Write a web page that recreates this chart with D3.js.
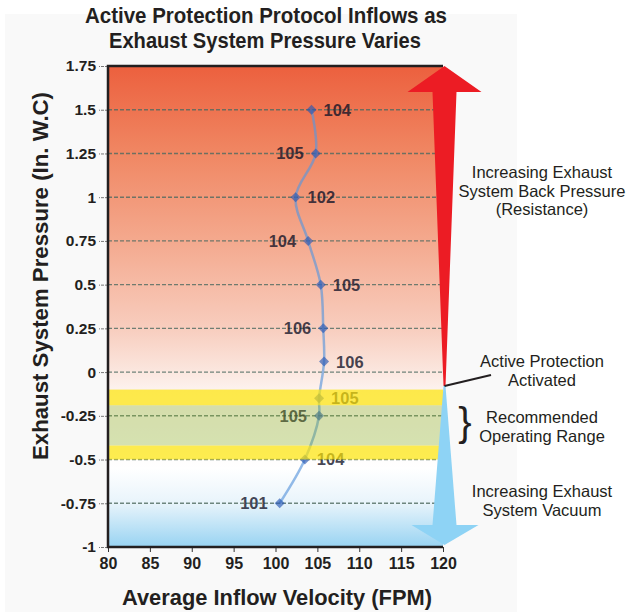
<!DOCTYPE html>
<html>
<head>
<meta charset="utf-8">
<script src="https://cdn.jsdelivr.net/npm/d3@7"></script>
<style>
  body { margin: 0; background: #fff; }
  text { font-family: "Liberation Sans", Arial, sans-serif; }
</style>
</head>
<body>
<div id="chart"></div>
<script>
var svgWidth = 644;
var svgHeight = 615;

// data
var pressure = [1.5, 1.25, 1, 0.75, 0.5, 0.25, 0.06, -0.15, -0.25, -0.5, -0.75];
var velocity = [104.3, 104.8, 102.4, 103.9, 105.4, 105.7, 105.8, 105.2, 105.2, 103.5, 100.5];
var pointLabels = ["104", "105", "102", "104", "105", "106", "106", "105", "105", "104", "101"];
var labelSide = ["right", "left", "right", "left", "right", "left", "right", "right", "left", "right", "left"];

var yTicks = [1.75, 1.5, 1.25, 1, 0.75, 0.5, 0.25, 0, -0.25, -0.5, -0.75, -1];
var yTickLabels = ["1.75", "1.5", "1.25", "1", "0.75", "0.5", "0.25", "0", "-0.25", "-0.5", "-0.75", "-1"];
var xTicks = [80, 85, 90, 95, 100, 105, 110, 115, 120];

var bandFrom = [-0.1, -0.19, -0.42];
var bandTo = [-0.19, -0.42, -0.5];
var bandKind = ["yellow", "green", "yellow"];

var x = d3.scaleLinear().domain([80, 120]).range([108, 443]);
var y = d3.scaleLinear().domain([-1, 1.75]).range([547, 66]);

var svg = d3.select("#chart")
  .append("svg")
  .attr("width", svgWidth)
  .attr("height", svgHeight);

var defs = svg.append("defs");

// background fill of plot: red at top, white around -0.5, blue at bottom
var bgStops = [
  [1.75, "#ec603e"], [1.25, "#f08763"], [0.75, "#f4a98e"], [0.25, "#f8cdbe"],
  [0, "#fbe7df"], [-0.1, "#fdf2ee"], [-0.55, "#ffffff"], [-0.75, "#e8f4fb"], [-1, "#98d3f2"]
];
var bg = defs.append("linearGradient")
  .attr("id", "bgGrad")
  .attr("gradientUnits", "userSpaceOnUse")
  .attr("x1", 0).attr("x2", 0)
  .attr("y1", y(1.75)).attr("y2", y(-1));
bg.selectAll("stop").data(bgStops).enter().append("stop")
  .attr("offset", d => (y(d[0]) - y(1.75)) / (y(-1) - y(1.75)))
  .attr("stop-color", d => d[1]);

// faint page panel
svg.append("rect")
  .attr("x", 5).attr("y", 14).attr("width", 512).attr("height", 598)
  .attr("fill", "#f9f9f9");

svg.append("rect")
  .attr("x", x(80)).attr("y", y(1.75))
  .attr("width", x(120) - x(80)).attr("height", y(-1) - y(1.75))
  .attr("fill", "url(#bgGrad)");

// dashed grid
svg.append("g").selectAll("line")
  .data(yTicks.filter(d => d > -1 && d < 1.75))
  .enter().append("line")
  .attr("x1", x(80)).attr("x2", x(120))
  .attr("y1", d => y(d)).attr("y2", d => y(d))
  .attr("stroke", "#4e6a60")
  .attr("stroke-opacity", 0.8)
  .attr("stroke-width", 1.4)
  .attr("stroke-dasharray", "4,2");

var points = pressure.map((p, i) => ({ p: p, v: velocity[i], label: pointLabels[i], side: labelSide[i] }));

var line = d3.line()
  .x(d => x(d.v))
  .y(d => y(d.p))
  .curve(d3.curveCatmullRom.alpha(0.5));

svg.append("path")
  .datum(points)
  .attr("d", line)
  .attr("fill", "none")
  .attr("stroke", "#5a96dc")
  .attr("stroke-opacity", 0.65)
  .attr("stroke-width", 2.5);

svg.append("g").selectAll("path")
  .data(points)
  .enter().append("path")
  .attr("d", d3.symbol().type(d3.symbolSquare).size(50))
  .attr("transform", d => `translate(${x(d.v)},${y(d.p)}) rotate(45)`)
  .attr("fill", "#2858b4")
  .attr("fill-opacity", 0.65);

svg.append("g").selectAll("text")
  .data(points)
  .enter().append("text")
  .attr("x", d => x(d.v) + (d.side === "right" ? 12 : -12))
  .attr("y", d => y(d.p))
  .attr("dy", "0.36em")
  .attr("text-anchor", d => d.side === "right" ? "start" : "end")
  .attr("font-size", 16.5)
  .attr("font-weight", "bold")
  .attr("fill", "#141428")
  .attr("fill-opacity", 0.8)
  .text(d => d.label);

// recommended range bands laid over the marks
var bandColor = { yellow: "#fce405", green: "#8ab229" };
var bandAlpha = { yellow: 0.7, green: 0.35 };
svg.append("g").selectAll("rect")
  .data(bandFrom.map((f, i) => ({ from: f, to: bandTo[i], kind: bandKind[i] })))
  .enter().append("rect")
  .attr("x", x(80)).attr("width", x(120) - x(80))
  .attr("y", d => y(d.from)).attr("height", d => y(d.to) - y(d.from))
  .attr("fill", d => bandColor[d.kind])
  .attr("fill-opacity", d => bandAlpha[d.kind]);

// axes
var leftAxis = d3.axisLeft(y).tickValues(yTicks).tickFormat((d, i) => yTickLabels[i]).tickSize(9).tickPadding(3);
var yAxis = svg.append("g")
  .attr("transform", `translate(${x(80)},0)`)
  .call(leftAxis);
yAxis.select(".domain").remove();
yAxis.selectAll(".tick line").attr("stroke", "#777").attr("stroke-dasharray", "3,1");
yAxis.selectAll("text")
  .attr("font-family", "Liberation Sans, Arial, sans-serif")
  .attr("font-size", 15.5).attr("font-weight", "bold").attr("fill", "#231f20");

var bottomAxis = d3.axisBottom(x).tickValues(xTicks).tickSize(5).tickPadding(6);
var xAxis = svg.append("g")
  .attr("transform", `translate(0,${y(-1)})`)
  .call(bottomAxis);
xAxis.select(".domain").remove();
xAxis.selectAll(".tick line").attr("stroke", "#333");
xAxis.selectAll("text")
  .attr("font-family", "Liberation Sans, Arial, sans-serif")
  .attr("font-size", 16).attr("font-weight", "bold").attr("fill", "#231f20");

svg.append("path")
  .attr("d", `M${x(120)},${y(1.75)}H${x(80)}V${y(-1)}H${x(120)}`)
  .attr("fill", "none")
  .attr("stroke", "#231f20")
  .attr("stroke-width", 2.5);

// arrows on the right edge
var ax = x(120) + 1.5;
var yMid = y(-0.08);
var red = [
  [ax, y(1.75)], [ax + 37, y(1.75) + 26], [ax + 12, y(1.75) + 26], [ax + 1, yMid],
  [ax - 1, yMid], [ax - 12, y(1.75) + 26], [ax - 37, y(1.75) + 26]
];
svg.append("polygon")
  .attr("points", red.map(p => p.join(",")).join(" "))
  .attr("fill", "#ec1c24");

var yHead = y(-1) - 22;
var blue = [
  [ax - 1, yMid], [ax + 1, yMid], [ax + 12, yHead], [ax + 34, yHead],
  [ax, y(-1) - 2], [ax - 33, yHead], [ax - 12, yHead]
];
svg.append("polygon")
  .attr("points", blue.map(p => p.join(",")).join(" "))
  .attr("fill", "#8ed3f5");

svg.append("line")
  .attr("x1", ax).attr("y1", yMid)
  .attr("x2", 491).attr("y2", 375)
  .attr("stroke", "#231f20").attr("stroke-width", 2);

// annotation text
var notes = [
  { lines: ["Increasing Exhaust", "System Back Pressure", "(Resistance)"], y: 178 },
  { lines: ["Active Protection", "Activated"], y: 367 },
  { lines: ["Recommended", "Operating Range"], y: 423 },
  { lines: ["Increasing Exhaust", "System Vacuum"], y: 497 }
];
notes.forEach(function(n) {
  var t = svg.append("text")
    .attr("text-anchor", "middle")
    .attr("font-size", 16.5)
    .attr("fill", "#231f20");
  n.lines.forEach(function(l, i) {
    t.append("tspan").attr("x", 542).attr("y", n.y + i * 18.5).text(l);
  });
});

svg.append("text")
  .attr("x", 465).attr("y", 436)
  .attr("text-anchor", "middle")
  .attr("font-size", 40)
  .attr("fill", "#231f20")
  .text("}");

// titles
var title = svg.append("text")
  .attr("text-anchor", "middle")
  .attr("font-size", 21.5)
  .attr("font-weight", "bold")
  .attr("fill", "#231f20");
title.append("tspan").attr("x", 266).attr("y", 23)
  .attr("textLength", 362).attr("lengthAdjust", "spacingAndGlyphs")
  .text("Active Protection Protocol Inflows as");
title.append("tspan").attr("x", 265).attr("y", 48)
  .attr("textLength", 312).attr("lengthAdjust", "spacingAndGlyphs")
  .text("Exhaust System Pressure Varies");

svg.append("text")
  .attr("transform", "translate(48,276) rotate(-90)")
  .attr("text-anchor", "middle")
  .attr("font-size", 21.5)
  .attr("font-weight", "bold")
  .attr("fill", "#231f20")
  .attr("textLength", 368).attr("lengthAdjust", "spacingAndGlyphs")
  .text("Exhaust System Pressure (In. W.C)");

svg.append("text")
  .attr("x", 277).attr("y", 605)
  .attr("text-anchor", "middle")
  .attr("font-size", 21.5)
  .attr("font-weight", "bold")
  .attr("fill", "#231f20")
  .attr("textLength", 310).attr("lengthAdjust", "spacingAndGlyphs")
  .text("Average Inflow Velocity (FPM)");
</script>
</body>
</html>
